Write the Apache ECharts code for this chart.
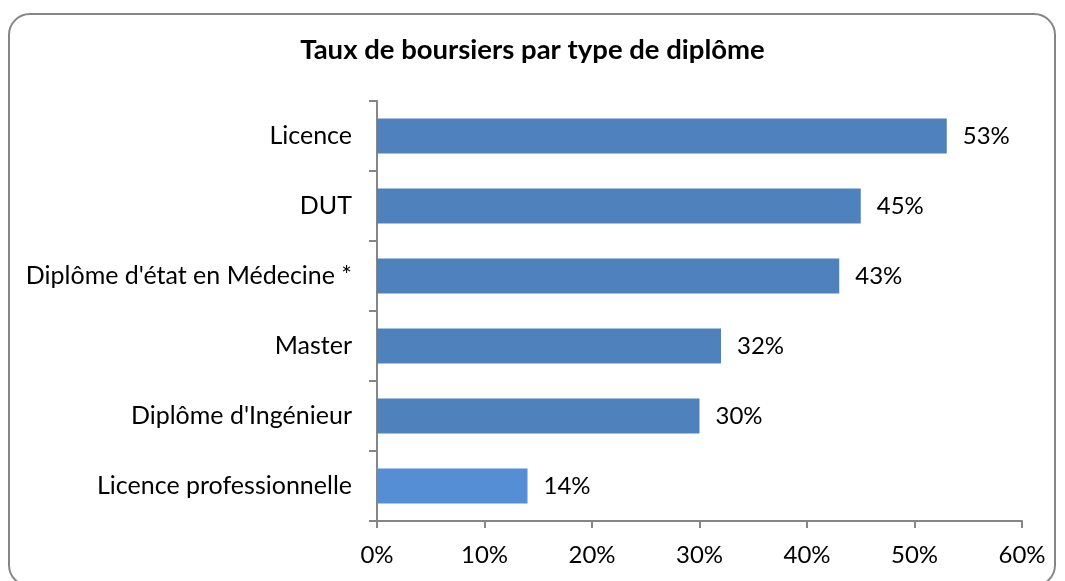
<!DOCTYPE html>
<html>
<head>
<meta charset="utf-8">
<script src="https://cdn.jsdelivr.net/npm/echarts@6/dist/echarts.min.js"></script>
<style>
html,body{margin:0;padding:0;background:#fff;}
#frame{position:absolute;left:8px;top:13px;width:1048px;height:574px;border:2px solid #868686;border-radius:22px;box-sizing:border-box;}
#chart{position:absolute;left:0;top:0;width:1065px;height:581px;}
</style>
</head>
<body>
<div id="frame"></div>
<div id="chart"></div>
<script>
const categories = ["Licence", "DUT", "Diplôme d'état en Médecine *", "Master", "Diplôme d'Ingénieur", "Licence professionnelle"];
const values = [53, 45, 43, 32, 30, 14];
const barColors = ["#4F81BD", "#4F81BD", "#4F81BD", "#4F81BD", "#4F81BD", "#558ED5"];
const xTicks = [0, 10, 20, 30, 40, 50, 60];
const titleText = "Taux de boursiers par type de diplôme";

const font = "Lato, 'Open Sans', sans-serif";
const chart = echarts.init(document.getElementById('chart'));
chart.setOption({
  animation: false,
  title: {
    text: titleText, left: 'center', top: 31,
    textStyle: {fontFamily: font, fontSize: 27.5, fontWeight: 'bold', color: '#000'}
  },
  grid: {left: 377, right: 43, top: 101, bottom: 60, containLabel: false},
  xAxis: {
    type: 'value', min: xTicks[0], max: xTicks[xTicks.length - 1], interval: 10,
    axisLine: {show: true, lineStyle: {color: '#868686', width: 2}},
    axisTick: {show: true, length: 7, lineStyle: {color: '#868686', width: 2}},
    splitLine: {show: false},
    axisLabel: {formatter: '{value}%', fontFamily: font, fontSize: 24, color: '#000', margin: 22}
  },
  yAxis: {
    type: 'category', data: categories, inverse: true,
    axisLine: {show: true, lineStyle: {color: '#868686', width: 2}},
    axisTick: {show: true, length: 8, lineStyle: {color: '#868686', width: 2}},
    axisLabel: {fontFamily: font, fontSize: 25, color: '#000', margin: 25}
  },
  series: [{
    type: 'bar', barCategoryGap: '50%',
    data: values.map((v, i) => ({value: v, itemStyle: {color: barColors[i]}})),
    label: {show: true, position: 'right', distance: 16, formatter: '{c}%', fontFamily: font, fontSize: 24, color: '#000'}
  }]
});
</script>
</body>
</html>
